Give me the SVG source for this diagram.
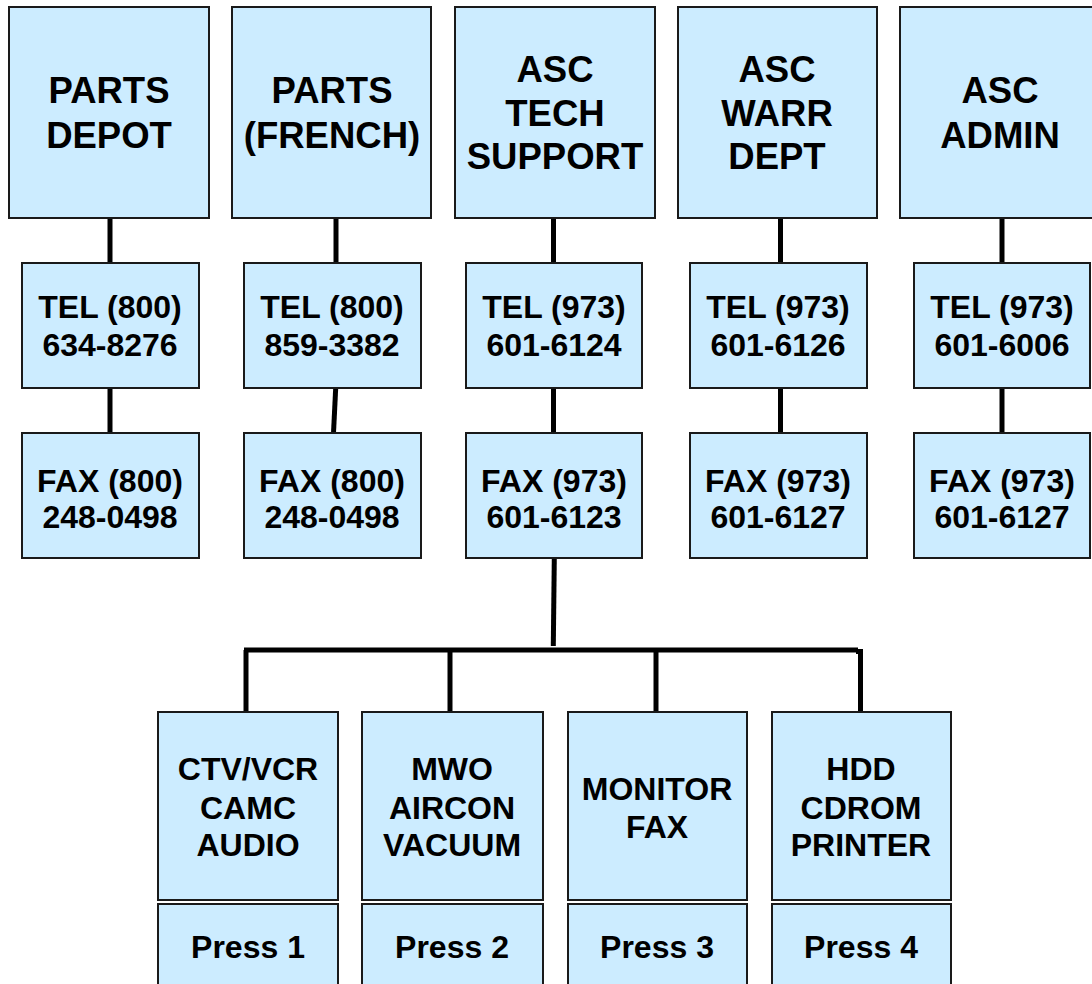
<svg xmlns="http://www.w3.org/2000/svg" width="1092" height="984" viewBox="0 0 1092 984">
<style>
.box{fill:#CCECFF;stroke:#1a1a1a;stroke-width:2}
.big{font-family:"Liberation Sans",Arial,sans-serif;font-weight:bold;font-size:36.5px;fill:#000;text-anchor:middle}
.mid{font-family:"Liberation Sans",Arial,sans-serif;font-weight:bold;font-size:32px;fill:#000;text-anchor:middle}
.con{stroke:#000;stroke-width:5;fill:none}
</style>
<rect width="1092" height="984" fill="#fff"/>
<g id="connectors">
<line class="con" x1="110" y1="218" x2="110" y2="264"/>
<line class="con" x1="110" y1="388" x2="110" y2="433"/>
<line class="con" x1="336" y1="218" x2="336" y2="264"/>
<line class="con" x1="335.7" y1="388" x2="333.5" y2="433"/>
<line class="con" x1="553.5" y1="218" x2="553.5" y2="264"/>
<line class="con" x1="553.5" y1="388" x2="553.5" y2="433"/>
<line class="con" x1="780.5" y1="218" x2="780.5" y2="264"/>
<line class="con" x1="780.5" y1="388" x2="780.5" y2="433"/>
<line class="con" x1="1002" y1="218" x2="1002" y2="264"/>
<line class="con" x1="1002" y1="388" x2="1002" y2="433"/>
<line class="con" x1="554.3" y1="558" x2="553.3" y2="646"/>
<line class="con" x1="244" y1="650" x2="858" y2="650"/>
<polyline class="con" points="246,650 246,712"/>
<line class="con" x1="450" y1="650" x2="450" y2="712"/>
<line class="con" x1="656" y1="650" x2="656" y2="712"/>
<polyline class="con" points="856,651.5 860.5,651.5 860.5,712"/>
</g>
<g id="parts-depot"><rect class="box" x="9" y="7" width="200" height="211"/><text class="big" x="109" y="103">PARTS</text><text class="big" x="109" y="148">DEPOT</text></g>
<g id="parts-french"><rect class="box" x="232" y="7" width="199" height="211"/><text class="big" x="332" y="103">PARTS</text><text class="big" x="332" y="148">(FRENCH)</text></g>
<g id="asc-tech"><rect class="box" x="455" y="7" width="200" height="211"/><text class="big" x="555" y="82">ASC</text><text class="big" x="555" y="126">TECH</text><text class="big" x="555" y="169">SUPPORT</text></g>
<g id="asc-warr"><rect class="box" x="678" y="7" width="199" height="211"/><text class="big" x="777" y="82">ASC</text><text class="big" x="777" y="126">WARR</text><text class="big" x="777" y="169">DEPT</text></g>
<g id="asc-admin"><rect class="box" x="900" y="7" width="196" height="211"/><text class="big" x="1000" y="103">ASC</text><text class="big" x="1000" y="148">ADMIN</text></g>
<g id="tel1"><rect class="box" x="22" y="263" width="177" height="125"/><text class="mid" x="110" y="318">TEL (800)</text><text class="mid" x="110" y="356">634-8276</text></g>
<g id="tel2"><rect class="box" x="244" y="263" width="177" height="125"/><text class="mid" x="332" y="318">TEL (800)</text><text class="mid" x="332" y="356">859-3382</text></g>
<g id="tel3"><rect class="box" x="466" y="263" width="176" height="125"/><text class="mid" x="554" y="318">TEL (973)</text><text class="mid" x="554" y="356">601-6124</text></g>
<g id="tel4"><rect class="box" x="690" y="263" width="177" height="125"/><text class="mid" x="778" y="318">TEL (973)</text><text class="mid" x="778" y="356">601-6126</text></g>
<g id="tel5"><rect class="box" x="914" y="263" width="176" height="125"/><text class="mid" x="1002" y="318">TEL (973)</text><text class="mid" x="1002" y="356">601-6006</text></g>
<g id="fax1"><rect class="box" x="22" y="433" width="177" height="125"/><text class="mid" x="110" y="492">FAX (800)</text><text class="mid" x="110" y="528">248-0498</text></g>
<g id="fax2"><rect class="box" x="244" y="433" width="177" height="125"/><text class="mid" x="332" y="492">FAX (800)</text><text class="mid" x="332" y="528">248-0498</text></g>
<g id="fax3"><rect class="box" x="466" y="433" width="176" height="125"/><text class="mid" x="554" y="492">FAX (973)</text><text class="mid" x="554" y="528">601-6123</text></g>
<g id="fax4"><rect class="box" x="690" y="433" width="177" height="125"/><text class="mid" x="778" y="492">FAX (973)</text><text class="mid" x="778" y="528">601-6127</text></g>
<g id="fax5"><rect class="box" x="914" y="433" width="176" height="125"/><text class="mid" x="1002" y="492">FAX (973)</text><text class="mid" x="1002" y="528">601-6127</text></g>
<g id="cat1"><rect class="box" x="158" y="712" width="180" height="188"/><text class="mid" x="248" y="780">CTV/VCR</text><text class="mid" x="248" y="819">CAMC</text><text class="mid" x="248" y="856">AUDIO</text></g>
<g id="cat2"><rect class="box" x="362" y="712" width="181" height="188"/><text class="mid" x="452" y="780">MWO</text><text class="mid" x="452" y="819">AIRCON</text><text class="mid" x="452" y="856">VACUUM</text></g>
<g id="cat3"><rect class="box" x="568" y="712" width="179" height="188"/><text class="mid" x="657" y="800">MONITOR</text><text class="mid" x="657" y="838">FAX</text></g>
<g id="cat4"><rect class="box" x="772" y="712" width="179" height="188"/><text class="mid" x="861" y="780">HDD</text><text class="mid" x="861" y="819">CDROM</text><text class="mid" x="861" y="856">PRINTER</text></g>
<g id="press1"><rect class="box" x="158" y="904" width="180" height="90"/><text class="mid" x="248" y="958">Press 1</text></g>
<g id="press2"><rect class="box" x="362" y="904" width="181" height="90"/><text class="mid" x="452" y="958">Press 2</text></g>
<g id="press3"><rect class="box" x="568" y="904" width="179" height="90"/><text class="mid" x="657" y="958">Press 3</text></g>
<g id="press4"><rect class="box" x="772" y="904" width="179" height="90"/><text class="mid" x="861" y="958">Press 4</text></g>
</svg>
